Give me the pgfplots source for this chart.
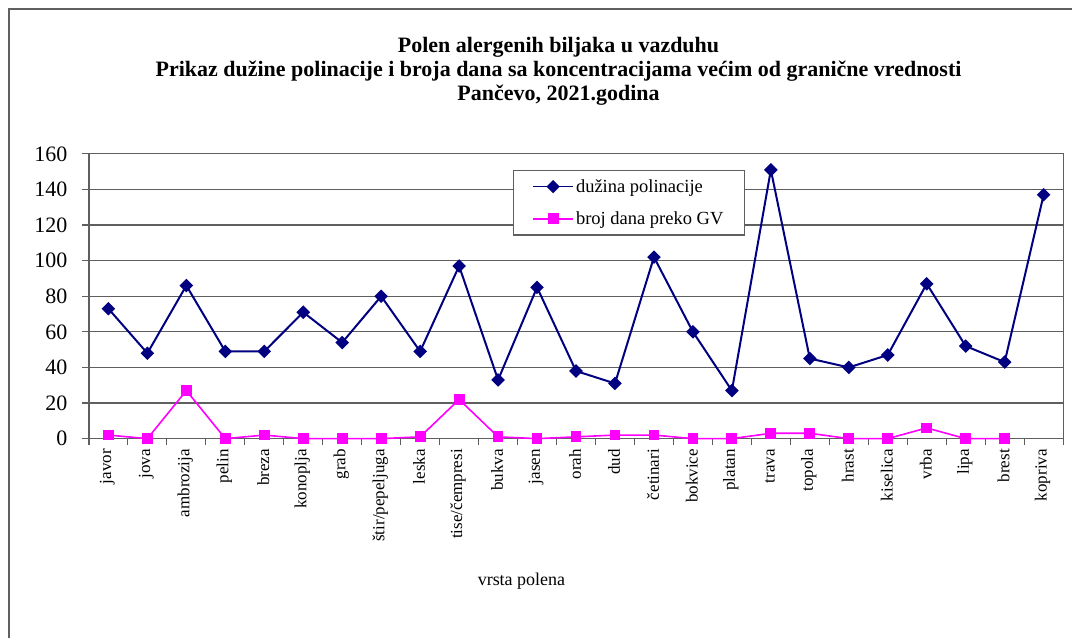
\documentclass[border=0pt]{standalone}
\usepackage{fontspec}
\setmainfont{Liberation Serif}
\usepackage{pgfplots}
\usepackage{pgfplotstable}
\pgfplotsset{compat=1.18}

\definecolor{navyline}{RGB}{0,0,128}
\definecolor{pinkline}{RGB}{255,0,255}
\definecolor{gridgray}{RGB}{95,95,95}

% x: category index, duz: duzina polinacije, gv: broj dana preko GV
\pgfplotstableread{
x duz gv
0 73 2
1 48 0
2 86 27
3 49 0
4 49 2
5 71 0
6 54 0
7 80 0
8 49 1
9 97 22
10 33 1
11 85 0
12 38 1
13 31 2
14 102 2
15 60 0
16 27 0
17 151 3
18 45 3
19 40 0
20 47 0
21 87 6
22 52 0
23 43 0
24 137 nan
}\polen

\begin{document}
\begin{tikzpicture}
\path (0pt,0pt) rectangle (1073pt,639pt);
\draw[gray!75!black, line width=1.8pt] (9pt,0pt) -- (9pt,630pt) -- (1073pt,630pt);

\begin{axis}[
    at={(89pt,200pt)}, anchor=south west,
    scale only axis,
    width=975pt, height=285pt,
    xmin=-0.5, xmax=24.5,
    ymin=0, ymax=160,
    ytick={0,20,...,160},
    xtick={0,...,24},
    xticklabels={javor, jova, ambrozija, pelin, breza, konoplja, grab, štir/pepeljuga, leska, tise/čempresi, bukva, jasen, orah, dud, četinari, bokvice, platan, trava, topola, hrast, kiselica, vrba, lipa, brest, kopriva},
    minor xtick={-0.5,0.5,...,24.5},
    major x tick style={draw=none},
    tick align=outside,
    xtick pos=bottom, ytick pos=left,
    major tick length=7pt,
    minor tick length=6pt,
    tick style={gridgray, line width=1.2pt},
    axis line style={gridgray, line width=1.2pt},
    ymajorgrids,
    major grid style={gridgray, line width=1.2pt},
    /pgf/number format/assume math mode=true,
    yticklabel style={font=\fontsize{22pt}{26pt}\selectfont, xshift=-11pt},
    xticklabel style={font=\fontsize{17pt}{20pt}\selectfont, rotate=90, anchor=east, yshift=1pt},
    xlabel={vrsta polena},
    xlabel style={font=\fontsize{18pt}{21pt}\selectfont, at={(axis description cs:0.444,-0.502)}, anchor=center},
    clip=false,
    legend style={at={(0.435,0.944)}, anchor=north west,
        draw=gridgray, line width=1.2pt,
        font=\fontsize{18.5pt}{21pt}\selectfont,
        inner xsep=19pt, inner ysep=7pt,
        row sep=14pt,
        /tikz/every even column/.append style={column sep=4pt}},
    legend cell align=left,
    legend image post style={line width=1.8pt},
    legend image code/.code={\draw[mark repeat=2,mark phase=2] plot coordinates {(0pt,0pt)(20pt,0pt)(40pt,0pt)};},
]
\addplot[navyline, line width=2pt, mark=square*, mark size=3.8pt, mark options={rotate=45, solid, fill=navyline}]
    table[x=x, y=duz] {\polen};
\addlegendentry{dužina polinacije}
\addplot[pinkline, line width=1.6pt, mark=square*, mark size=4.6pt, mark options={solid, fill=pinkline}]
    table[x=x, y=gv] {\polen};
\addlegendentry{broj dana preko GV}
\end{axis}

\node[align=center, font=\bfseries\fontsize{22pt}{24pt}\selectfont] at (559pt,568pt)
    {Polen alergenih biljaka u vazduhu\\
     Prikaz dužine polinacije i broja dana sa koncentracijama većim od granične vrednosti\\
     Pančevo, 2021.godina};
\end{tikzpicture}
\end{document}
